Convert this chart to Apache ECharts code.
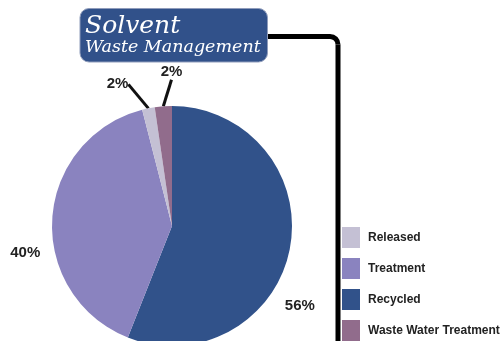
<!DOCTYPE html>
<html>
<head>
<meta charset="utf-8">
<script src="https://cdn.jsdelivr.net/npm/echarts@6/dist/echarts.min.js"></script>
<style>
html,body{margin:0;padding:0;background:#fff;}
#chart{width:503px;height:341px;}
</style>
</head>
<body>
<div id="chart"></div>
<script>
// ---- data ----
const categories = ['Recycled', 'Treatment', 'Released', 'Waste Water Treatment'];
const values = [56, 40, 1.7, 2.3];
const legendOrder = ['Released', 'Treatment', 'Recycled', 'Waste Water Treatment'];
const titleLine1 = 'Solvent';
const titleLine2 = 'Waste Management';

// ---- styling ----
const colors = ['#31528a', '#8a83bf', '#c4c0d4', '#916c8c'];
const labelOffsets = [[-10, 57], [-7, 34], [-15, -24], [24, -34]];
const showLine = [false, false, true, true];
const labelFont = "'Liberation Sans', Arial, sans-serif";

const chart = echarts.init(document.getElementById('chart'), null, {renderer: 'canvas'});

const pieData = categories.map((name, i) => ({
  name: name,
  value: values[i],
  itemStyle: {color: colors[i]},
  labelLine: {show: showLine[i]}
}));

const bracketStyle = {stroke: '#000', lineWidth: 5, fill: null};

chart.setOption({
  animation: false,
  backgroundColor: '#ffffff',
  legend: {
    data: legendOrder,
    orient: 'vertical',
    left: 342,
    top: 227,
    height: 200,
    width: 170,
    padding: 0,
    itemWidth: 18,
    itemHeight: 21,
    itemGap: 10,
    icon: 'rect',
    selectedMode: false,
    textStyle: {fontFamily: labelFont, fontWeight: 'bold', fontSize: 12, color: '#222', padding: [0, 0, 0, 3]}
  },
  graphic: [
    {type: 'line', silent: true, shape: {x1: 260, y1: 36.5, x2: 330, y2: 36.5}, style: bracketStyle},
    {type: 'arc', silent: true, shape: {cx: 330, cy: 44.5, r: 8, startAngle: -Math.PI / 2, endAngle: 0}, style: bracketStyle},
    {type: 'line', silent: true, shape: {x1: 338, y1: 44.5, x2: 338, y2: 350}, style: bracketStyle},
    {
      type: 'rect',
      silent: true,
      shape: {x: 80, y: 8.5, width: 187.5, height: 53.5, r: 9},
      style: {fill: '#31518a', stroke: '#8f9cbb', lineWidth: 1}
    },
    {
      type: 'text',
      silent: true,
      style: {
        text: titleLine1, x: 85, y: 26, verticalAlign: 'middle',
        font: "italic 25px 'DejaVu Serif', serif", fill: '#ffffff'
      }
    },
    {
      type: 'text',
      silent: true,
      style: {
        text: titleLine2, x: 85, y: 47, verticalAlign: 'middle',
        font: "italic 17.5px 'DejaVu Serif', serif", fill: '#ffffff'
      }
    }
  ],
  series: [{
    type: 'pie',
    center: [172, 226],
    radius: 120,
    startAngle: 90,
    clockwise: true,
    avoidLabelOverlap: false,
    data: pieData,
    itemStyle: {borderWidth: 0},
    label: {
      show: true,
      position: 'outside',
      formatter: p => Math.round(p.value) + '%',
      fontFamily: labelFont,
      fontWeight: 'bold',
      fontSize: 15,
      color: '#222'
    },
    labelLine: {
      show: true,
      length: 0,
      length2: 0,
      smooth: false,
      lineStyle: {color: '#111', width: 3}
    },
    labelLayout: function (params) {
      const off = labelOffsets[params.dataIndex];
      return {
        x: params.labelRect.x + params.labelRect.width / 2 + off[0],
        y: params.labelRect.y + params.labelRect.height / 2 + off[1],
        align: 'center',
        verticalAlign: 'middle'
      };
    },
    emphasis: {disabled: true}
  }]
});
</script>
</body>
</html>
